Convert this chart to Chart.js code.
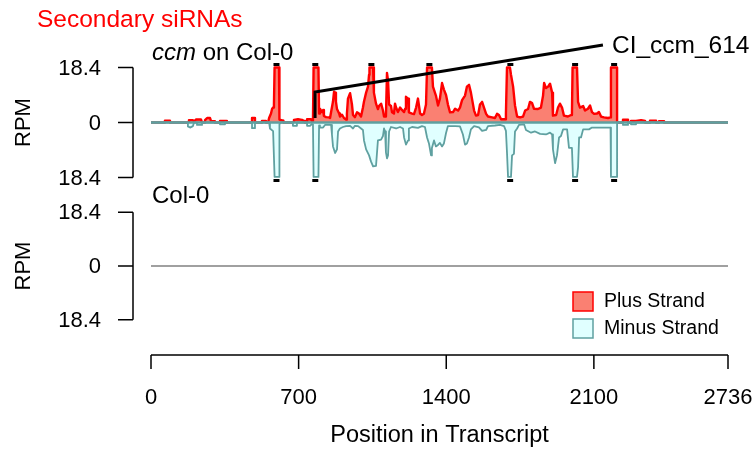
<!DOCTYPE html>
<html>
<head>
<meta charset="utf-8">
<script src="https://cdn.jsdelivr.net/npm/chart.js@4.4.1/dist/chart.umd.min.js"></script>
<style>
  body { margin: 0; background: #fff; }
  canvas { display: block; }
</style>
</head>
<body>
<canvas id="c" width="755" height="449"></canvas>
<script>
// Transcript positions and RPM
const plusPos = [0, 66, 66, 90, 90, 180, 180, 199, 204, 213, 237, 242, 256, 256, 266, 280, 285, 299, 303, 327,
  327, 356, 360, 479, 479, 493, 493, 526, 526, 545, 545, 555, 560, 569, 574, 579, 583, 586, 607, 609,
  626, 628, 678, 678, 697, 716, 726, 730, 740, 740, 759, 763, 768, 771, 794, 797, 801, 811, 816, 820,
  830, 844, 849, 854, 863, 868, 873, 877, 882, 892, 896, 906, 915, 925, 929, 934, 944, 953, 958, 967,
  977, 986, 996, 1005, 1010, 1020, 1029, 1034, 1036, 1053, 1057, 1067, 1076, 1081, 1091, 1100, 1105, 1114, 1119, 1124,
  1129, 1138, 1143, 1152, 1157, 1162, 1171, 1181, 1190, 1200, 1205, 1209, 1219, 1223, 1238, 1247, 1257, 1266, 1276, 1285,
  1294, 1304, 1309, 1332, 1337, 1351, 1361, 1370, 1380, 1389, 1399, 1408, 1418, 1432, 1442, 1456, 1465, 1475, 1489, 1498,
  1508, 1517, 1522, 1532, 1541, 1551, 1560, 1570, 1579, 1589, 1598, 1617, 1631, 1641, 1650, 1660, 1679, 1683, 1688, 1702,
  1707, 1717, 1726, 1736, 1750, 1764, 1774, 1788, 1797, 1807, 1816, 1835, 1849, 1859, 1864, 1873, 1883, 1892, 1902, 1906,
  1921, 1930, 1939, 1949, 1958, 1977, 1992, 1996, 1999, 2020, 2025, 2034, 2049, 2058, 2072, 2082, 2091, 2101, 2115, 2124,
  2134, 2148, 2167, 2179, 2181, 2210, 2210, 2238, 2238, 2262, 2262, 2276, 2276, 2300, 2324, 2343, 2343, 2366, 2366, 2395,
  2395, 2409, 2409, 2433, 2433, 2736];
const plusRPM = [0, 0, 0.6, 0.6, 0, 0, 0.8, 0.8, 0.3, 1.0, 1.0, 0, 0, 0.8, 1.5, 1.5, 0.4, 0.4, 0, 0,
  0.5, 0.5, 0, 0, 1.5, 1.5, 0, 0, 0.5, 0.5, 0, 0, 1.5, 3, 4.5, 5, 6, 18.4, 18.4, 1,
  0.6, 0, 0, 0.9, 1.1, 0.9, 0.5, 0, 0, 1.1, 1.1, 0.5, 0.5, 18.4, 18.4, 3, 4.6, 3.5, 4.2, 2.2,
  1.8, 1.7, 1.5, 3.5, 7, 10.3, 10, 7, 4.5, 3, 2, 2.6, 1.5, 1, 3, 8, 9.8, 6, 2.5, 1.8,
  3.4, 3, 2, 5, 7, 10, 12, 16, 18.4, 18.4, 10, 6.3, 4.5, 5.5, 6.3, 4, 2, 2, 16.6, 14,
  6, 5.5, 3.4, 3, 6.3, 5, 3.5, 5, 4.2, 3.5, 4.6, 8.6, 8, 3.4, 3, 2.8, 5, 8, 3, 2.5,
  2.9, 6, 18.4, 18.4, 12, 9, 5.7, 8, 13.2, 11, 9.2, 6, 3.4, 3.5, 4.6, 4, 5, 7.5, 9, 12,
  12.6, 10, 8, 4, 2.3, 2.5, 6, 6.9, 5, 2.9, 2, 1.7, 1.5, 2.9, 2.5, 1.1, 1.1, 3, 18.4, 18.4,
  16, 12, 5.7, 2, 1.7, 2, 4, 4.5, 6.9, 6.5, 4.6, 4.5, 5, 9, 13.2, 11.5, 12, 13, 10, 2.3,
  2.5, 5, 6.3, 5, 2.3, 2, 2.5, 3, 18.4, 18.4, 6.9, 5, 5.5, 4, 4.6, 5.7, 3.5, 2.9, 3, 3.5,
  2, 1.7, 1.5, 1.7, 18.4, 18.4, 0, 0, 0.9, 0.9, 0, 0, 0.5, 0.5, 0.8, 0.5, 0, 0, 0.6, 0.6,
  0, 0, 0.4, 0.4, 0, 0];

const minusPos = [0, 175, 175, 185, 199, 204, 218, 218, 242, 242, 327, 327, 351, 351, 479, 479, 493, 493, 560, 564,
  579, 583, 586, 607, 609, 616, 673, 673, 692, 692, 740, 740, 754, 763, 768, 771, 794, 797, 801, 816,
  825, 854, 858, 863, 873, 882, 887, 896, 910, 925, 944, 958, 967, 982, 996, 1005, 1010, 1020, 1034, 1043,
  1053, 1067, 1076, 1091, 1100, 1105, 1110, 1114, 1119, 1124, 1129, 1138, 1162, 1181, 1195, 1200, 1209, 1219, 1223, 1238,
  1266, 1285, 1299, 1309, 1318, 1328, 1332, 1342, 1351, 1361, 1370, 1380, 1389, 1399, 1408, 1442, 1465, 1479, 1489, 1498,
  1508, 1517, 1532, 1555, 1570, 1589, 1598, 1631, 1655, 1674, 1683, 1688, 1693, 1707, 1712, 1721, 1726, 1736, 1745, 1769,
  1778, 1802, 1821, 1845, 1873, 1892, 1902, 1906, 1916, 1925, 1935, 1944, 1954, 1973, 1982, 1996, 2001, 2020, 2025, 2030,
  2039, 2049, 2077, 2091, 2120, 2148, 2179, 2181, 2210, 2210, 2238, 2238, 2262, 2262, 2276, 2276, 2300, 2300, 2736];
const minusRPM = [0, 0, 1.3, 1.7, 1.2, 0, 0, 0.8, 0.8, 0, 0, 0.6, 0.6, 0, 0, 1.9, 1.9, 0, 0, 2,
  2.9, 2.9, 18.2, 18.2, 0.5, 0, 0, 1.1, 1.1, 0, 0, 1.1, 1.1, 0.5, 0.6, 18.2, 18.2, 1, 1.7, 1.7,
  0.8, 0.8, 4, 8, 10.2, 9, 3, 2, 1.5, 1.2, 1.1, 2, 1.1, 1.2, 2, 2.5, 6, 9, 11, 13,
  14.7, 14.5, 6, 5.7, 4.5, 2, 3, 10, 12, 11, 3, 1.5, 2, 1.5, 2, 5, 7.4, 6, 2, 1.5,
  1.8, 1.2, 1.5, 5, 7, 11, 8.5, 6, 8, 7.5, 6.8, 8, 7, 3.5, 1.2, 1.2, 1.3, 4, 7.4, 7,
  5, 2.3, 1.2, 1.6, 2.8, 2.5, 1.2, 1, 0.8, 1.2, 2.8, 10, 18.2, 18.2, 11, 10.5, 3, 2, 0.8, 0.6,
  2.5, 3.4, 3, 3.8, 4, 3.4, 4, 9, 13.6, 11, 5, 4.5, 2.3, 2.3, 8.5, 8.5, 18.2, 18.2, 15, 5,
  5, 2.3, 2.3, 1.7, 1.7, 1.7, 1.7, 18.2, 18.2, 0, 0, 0.8, 0.8, 0, 0, 0.6, 0.6, 0, 0];

// positions where the coverage runs off the top of the panel
const plusCapPos = [595, 779, 1045, 1320, 1704, 2011, 2196];
const minusCapPos = [595, 779, 1703, 2011, 2196];
const capRPM = 19.4;

// CI_ccm_614 pointer
const pointerPos = [778, 778, 2143];
const pointerRPM = [1.5, 10.2, 25.9];
const pointerLabel = 'CI_ccm_614';

const rpmTicks = [18.4, 0, -18.4];
const xTicks = [0, 700, 1400, 2100, 2736];
const transcriptLength = 2736;

const FONT = '"Liberation Sans", Arial, Helvetica, sans-serif';
const RED = '#ff0000';
const SALMON = '#fa8072';
const TEAL = '#5fa0a0';
const CYAN = '#e0ffff';

function xy(xs, ys, sign) {
    return xs.map((x, i) => ({ x: x, y: sign * ys[i] }));
}

// draws the R style axes, labels and legend
const rDecor = {
    id: 'rDecor',
    afterDraw(chart) {
        const ctx = chart.ctx;
        const sx = chart.scales.x;
        const panels = [chart.scales.yTop, chart.scales.yBot];
        ctx.save();
        ctx.strokeStyle = '#000';
        ctx.fillStyle = '#000';
        ctx.lineWidth = 1.5;

        // y axes
        panels.forEach(s => {
            const top = s.getPixelForValue(rpmTicks[0]);
            const bot = s.getPixelForValue(rpmTicks[rpmTicks.length - 1]);
            ctx.beginPath();
            ctx.moveTo(133, top);
            ctx.lineTo(133, bot);
            rpmTicks.forEach(v => {
                const py = s.getPixelForValue(v);
                ctx.moveTo(118, py);
                ctx.lineTo(133, py);
            });
            ctx.stroke();
            ctx.font = '22px ' + FONT;
            ctx.textAlign = 'right';
            ctx.textBaseline = 'middle';
            rpmTicks.forEach(v => {
                ctx.fillText(String(Math.abs(v)), 101, s.getPixelForValue(v) + 1);
            });
            ctx.save();
            ctx.translate(24, s.getPixelForValue(0));
            ctx.rotate(-Math.PI / 2);
            ctx.textAlign = 'center';
            ctx.fillText('RPM', 0, 0);
            ctx.restore();
        });

        // x axis
        const ay = chart.chartArea.bottom;
        ctx.beginPath();
        ctx.moveTo(sx.getPixelForValue(xTicks[0]), ay);
        ctx.lineTo(sx.getPixelForValue(xTicks[xTicks.length - 1]), ay);
        xTicks.forEach(v => {
            const px = sx.getPixelForValue(v);
            ctx.moveTo(px, ay);
            ctx.lineTo(px, ay + 14);
        });
        ctx.stroke();
        ctx.textAlign = 'center';
        ctx.textBaseline = 'middle';
        ctx.font = '22px ' + FONT;
        xTicks.forEach(v => ctx.fillText(String(v), sx.getPixelForValue(v), ay + 43));
        ctx.font = '23.5px ' + FONT;
        ctx.fillText('Position in Transcript', (sx.left + sx.right) / 2, ay + 81);

        // titles
        ctx.textAlign = 'left';
        ctx.fillStyle = RED;
        ctx.font = '24.5px ' + FONT;
        ctx.fillText('Secondary siRNAs', 37, 20);
        ctx.fillStyle = '#000';
        ctx.font = 'italic 24px ' + FONT;
        ctx.fillText('ccm', 152, 53);
        const w = ctx.measureText('ccm').width;
        ctx.font = '24px ' + FONT;
        ctx.fillText(' on Col-0', 152 + w, 53);
        ctx.fillText('Col-0', 152, 196);

        // pointer label
        const lx = sx.getPixelForValue(pointerPos[2]);
        const ly = chart.scales.yTop.getPixelForValue(pointerRPM[2]);
        ctx.font = '24.5px ' + FONT;
        ctx.fillText(pointerLabel, lx + 9, ly + 1);

        // legend
        ctx.lineWidth = 1.5;
        ctx.fillStyle = SALMON;
        ctx.strokeStyle = RED;
        ctx.fillRect(573, 292, 20, 19);
        ctx.strokeRect(573, 292, 20, 19);
        ctx.fillStyle = CYAN;
        ctx.strokeStyle = TEAL;
        ctx.fillRect(573, 319, 20, 19);
        ctx.strokeRect(573, 319, 20, 19);
        ctx.fillStyle = '#000';
        ctx.font = '19.5px ' + FONT;
        ctx.fillText('Plus Strand', 604, 302);
        ctx.fillText('Minus Strand', 604, 329);
        ctx.restore();
    }
};

new Chart(document.getElementById('c'), {
    type: 'line',
    data: {
        datasets: [
            {
                data: xy(pointerPos, pointerRPM, 1),
                yAxisID: 'yTop',
                borderColor: '#000',
                borderWidth: 3,
                pointRadius: 0,
                fill: false,
                order: 0
            },
            {
                data: xy(plusCapPos, plusCapPos.map(() => capRPM), 1).concat(xy(minusCapPos, minusCapPos.map(() => capRPM), -1)),
                yAxisID: 'yTop',
                showLine: false,
                pointStyle: 'line',
                pointRadius: 3,
                pointBorderWidth: 3,
                pointBorderColor: '#000',
                order: 1
            },
            {
                data: [{ x: 0, y: 0 }, { x: transcriptLength, y: 0 }],
                yAxisID: 'yTop',
                borderColor: TEAL,
                borderWidth: 2.5,
                pointRadius: 0,
                fill: false,
                order: 2
            },
            {
                label: 'Minus Strand',
                data: xy(minusPos, minusRPM, -1),
                yAxisID: 'yTop',
                borderColor: TEAL,
                backgroundColor: CYAN,
                borderWidth: 1.8,
                borderJoinStyle: 'round',
                pointRadius: 0,
                fill: 'origin',
                order: 3
            },
            {
                label: 'Plus Strand',
                data: xy(plusPos, plusRPM, 1),
                yAxisID: 'yTop',
                borderColor: RED,
                backgroundColor: SALMON,
                borderWidth: 2.4,
                borderJoinStyle: 'round',
                pointRadius: 0,
                fill: 'origin',
                order: 4
            },
            {
                data: [{ x: 0, y: 0 }, { x: transcriptLength, y: 0 }],
                yAxisID: 'yBot',
                borderColor: '#808080',
                borderWidth: 1.5,
                pointRadius: 0,
                fill: false,
                order: 5
            }
        ]
    },
    options: {
        responsive: false,
        animation: false,
        devicePixelRatio: 1,
        layout: { padding: { left: 151, right: 27, top: 30, bottom: 94 } },
        elements: { line: { tension: 0 } },
        plugins: { legend: { display: false }, tooltip: { enabled: false } },
        scales: {
            x: { type: 'linear', min: 0, max: transcriptLength, display: false },
            yTop: { type: 'linear', min: -77.76, max: 30.94, display: false },
            yBot: { type: 'linear', min: -30.5, max: 80.88, display: false }
        }
    },
    plugins: [rDecor]
});
</script>
</body>
</html>
